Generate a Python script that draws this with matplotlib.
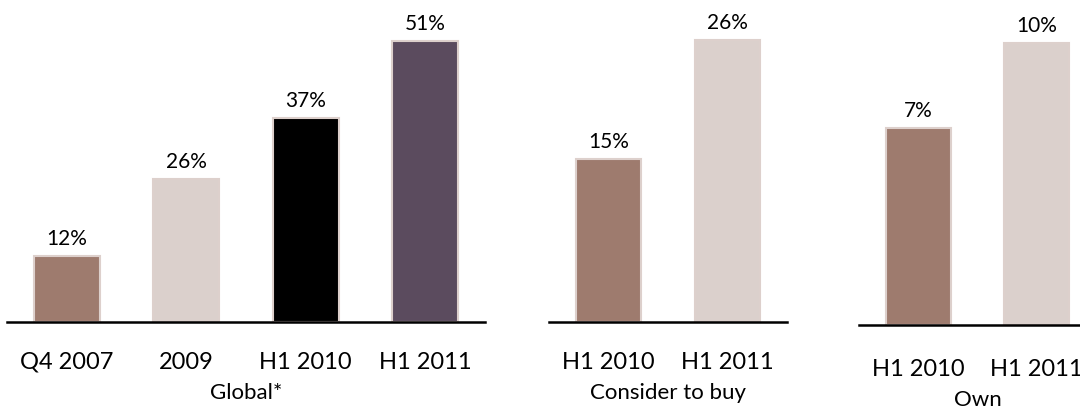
# доля по трём разрезам: Global*, Consider to buy, Own

import matplotlib.pyplot as plt
from matplotlib.transforms import blended_transform_factory

plt.rcParams['font.family'] = ['Lato', 'DejaVu Sans']

# Данные
global_periods = ['Q4 2007', '2009', 'H1 2010', 'H1 2011']
global_values = [12, 26, 37, 51]

consider_periods = ['H1 2010', 'H1 2011']
consider_values = [15, 26]

own_periods = ['H1 2010', 'H1 2011']
own_values = [7, 10]

brown = '#9e7b6e'
light = '#dbd0cc'
black = '#000000'
plum = '#5b4b5e'
edge = '#ddd0cc'

W, H = 1080, 412
fig = plt.figure(figsize=(W / 100, H / 100), dpi=100)


def panel(rect, periods, values, colors, title, ytop, tick_off, title_off):
    ax = fig.add_axes(rect)
    x = list(range(len(periods)))
    bars = ax.bar(x, values, width=0.55, color=colors, edgecolor=edge, linewidth=1.5)
    for b, v in zip(bars, values):
        ax.annotate(f'{v}%', (b.get_x() + b.get_width() / 2, v),
                    xytext=(0, 5), textcoords='offset points',
                    ha='center', va='bottom', fontsize=15)
    ax.set_xlim(-0.5, len(periods) - 0.5)
    ax.set_ylim(0, ytop)
    for s in ['top', 'left', 'right']:
        ax.spines[s].set_visible(False)
    ax.spines['bottom'].set_linewidth(1.8)
    ax.set_yticks([])
    ax.set_xticks([])
    # подписи периодов и название группы
    tr = blended_transform_factory(ax.transData, ax.transAxes)
    for xi, p in zip(x, periods):
        ax.annotate(p, (xi, 0), xycoords=tr, xytext=(0, -tick_off),
                    textcoords='offset points', ha='center', va='center', fontsize=17)
    ax.annotate(title, ((len(periods) - 1) / 2, 0), xycoords=tr, xytext=(0, -title_off),
                textcoords='offset points', ha='center', va='center', fontsize=16,
                annotation_clip=False)
    return ax


panel([7 / W, 90 / H, 478 / W, 322 / H], global_periods, global_values,
      [brown, light, black, plum], 'Global*', 51 * 322 / 281, 29, 51)
panel([549 / W, 90 / H, 238 / W, 322 / H], consider_periods, consider_values,
      [brown, light], 'Consider to buy', 26 * 322 / 282, 29, 51)
panel([859 / W, 87 / H, 237 / W, 325 / H], own_periods, own_values,
      [brown, light], 'Own', 10 * 325 / 282, 32, 54)

plt.savefig('out.png', dpi=100)
